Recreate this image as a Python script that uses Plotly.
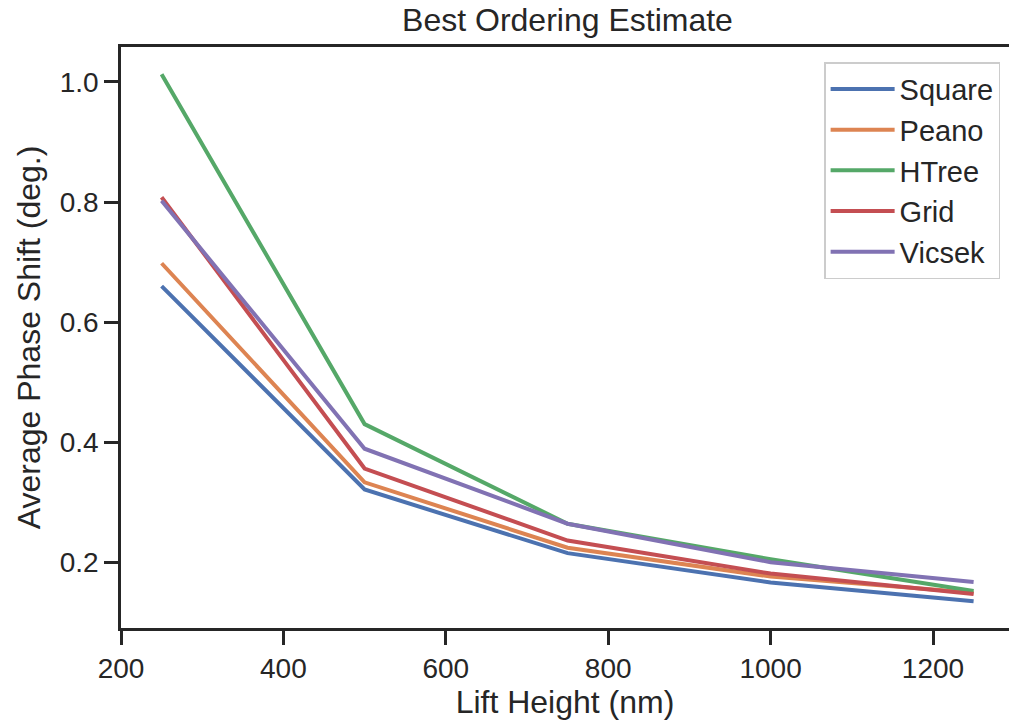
import plotly.graph_objects as go

lift_height = [250, 500, 750, 1000, 1250]
square = [0.660, 0.321, 0.215, 0.166, 0.135]
peano = [0.698, 0.333, 0.224, 0.176, 0.149]
htree = [1.013, 0.430, 0.264, 0.205, 0.152]
grid = [0.808, 0.356, 0.236, 0.181, 0.147]
vicsek = [0.802, 0.389, 0.264, 0.200, 0.167]

series = [
    ("Square", square, "#4C72B0"),
    ("Peano", peano, "#DD8452"),
    ("HTree", htree, "#55A868"),
    ("Grid", grid, "#C44E52"),
    ("Vicsek", vicsek, "#8172B3"),
]

FONT = "Liberation Sans, Arial, sans-serif"
TXT = "#262626"

fig = go.Figure()
for name, vals, col in series:
    fig.add_trace(go.Scatter(
        x=lift_height, y=vals, mode="lines", name=name,
        line=dict(color=col, width=4), legendgroup=name,
    ))

fig.update_layout(
    width=1009, height=724,
    margin=dict(l=121, r=0, t=47, b=96),
    paper_bgcolor="white", plot_bgcolor="white",
    font=dict(family=FONT, color=TXT, size=28),
    title=dict(text="Best Ordering Estimate", x=0.5028, xref="paper",
               xanchor="center", y=1 - 20 / 724, yanchor="middle",
               font=dict(size=32, color=TXT)),
    showlegend=True,
    legend=dict(x=0.99, xanchor="right", y=0.974, yanchor="top",
                bgcolor="rgba(255,255,255,0.8)", bordercolor="#cccccc",
                borderwidth=1.5, font=dict(size=29, color=TXT),
                traceorder="grouped", tracegroupgap=0, itemwidth=64),
)
fig.update_xaxes(
    range=[200, 1293.6], tickvals=[200, 400, 600, 800, 1000, 1200],
    showgrid=False, zeroline=False, showline=True, linecolor=TXT, linewidth=2.5,
    mirror=True, ticks="outside", ticklen=14, tickwidth=2.5, tickcolor=TXT,
    tickfont=dict(size=28, color=TXT),
    title=dict(text="Lift Height (nm)", font=dict(size=32, color=TXT), standoff=6),
)
fig.update_yaxes(
    range=[0.0903, 1.0583], tickvals=[0.2, 0.4, 0.6, 0.8, 1.0],
    ticktext=["0.2", "0.4", "0.6", "0.8", "1.0"],
    showgrid=False, zeroline=False, showline=True, linecolor=TXT, linewidth=2.5,
    ticks="outside", ticklen=14, tickwidth=2.5, tickcolor=TXT,
    tickfont=dict(size=28, color=TXT),
    title=dict(text="Average Phase Shift (deg.)", font=dict(size=32, color=TXT), standoff=10),
)

fig.write_html("out.html")
